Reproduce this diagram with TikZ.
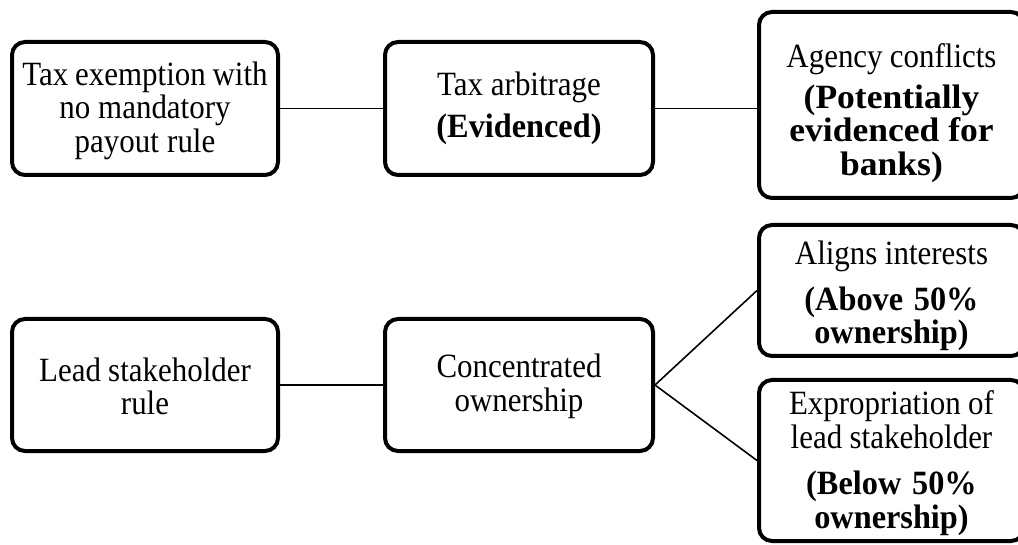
\documentclass[tikz,border=0pt]{standalone}
\usepackage{fontspec}
\usepackage{graphicx}
\setmainfont{Liberation Serif}[FakeStretch=0.91,
  BoldFeatures={FakeStretch=0.95}]
% bold remark lines keep the font's own word spacing
\newcommand\remark[1]{\textbf{\spaceskip=0pt\relax #1}}
\newcommand\wideremark[1]{\scalebox{1.1}[1]{\remark{#1}}}
\newcommand\tightwords{\spaceskip=6.5pt plus 2pt minus 1pt\relax}
\begin{document}
\begin{tikzpicture}[x=1pt,y=-1pt,
  box/.style={draw=black, line width=4pt, rounded corners=13pt, fill=white,
    inner sep=0pt},
  txt/.style={inner sep=0pt, align=center, text width=264pt,
    font=\fontsize{34}{33.5}\selectfont, execute at begin node=\tightwords},
  link/.style={draw=black, line width=1.6pt}]
  \useasboundingbox (0,0) rectangle (1018,545);

  % frames
  \node[box, minimum width=266pt, minimum height=133pt] (exempt) at (145,108.5) {};
  \node[box, minimum width=268pt, minimum height=133pt] (arb)    at (519,108.5) {};
  \node[box, minimum width=265pt, minimum height=186pt] (agency) at (891.5,105) {};
  \node[box, minimum width=266pt, minimum height=132pt] (lead)   at (145,385) {};
  \node[box, minimum width=268pt, minimum height=132pt] (conc)   at (519,385) {};
  \node[box, minimum width=265pt, minimum height=131pt] (align)  at (891.5,290.5) {};
  \node[box, minimum width=265pt, minimum height=161pt] (expro)  at (891.5,460.5) {};

  % labels (yshift is upward, so negative values move text down)
  \node[txt, yshift=-2pt] (exempt-t) at (exempt) {Tax exemption with\\no mandatory\\payout rule};
  \node[txt] (arb-t) at (arb) {Tax arbitrage\\[8.5pt]\remark{(Evidenced)}};
  \node[txt, yshift=-8pt] (agency-t) at (agency) {Agency conflicts\\[7pt]\wideremark{(Potentially}\\\wideremark{evidenced for}\\\wideremark{banks)}};
  \node[txt, yshift=-1.5pt] (lead-t) at (lead) {Lead stakeholder\\rule};
  \node[txt, yshift=-1.5pt] (conc-t) at (conc) {Concentrated\\ownership};
  \node[txt, yshift=-5.5pt] (align-t) at (align) {Aligns interests\\[12pt]\remark{(Above 50\%}\\\remark{ownership)}};
  \node[txt, yshift=-2.5pt] (expro-t) at (expro) {Expropriation of\\lead stakeholder\\[13pt]\remark{(Below 50\%}\\\remark{ownership)}};

  % connectors
  \draw[link] (exempt.east) -- (arb.west);
  \draw[link] (arb.east) -- (arb.east -| agency.west);
  \draw[link] (lead.east) -- (conc.west);
  \draw[link] (conc.east) -- (align.west);
  \draw[link] (conc.east) -- (expro.west);
\end{tikzpicture}
\end{document}
